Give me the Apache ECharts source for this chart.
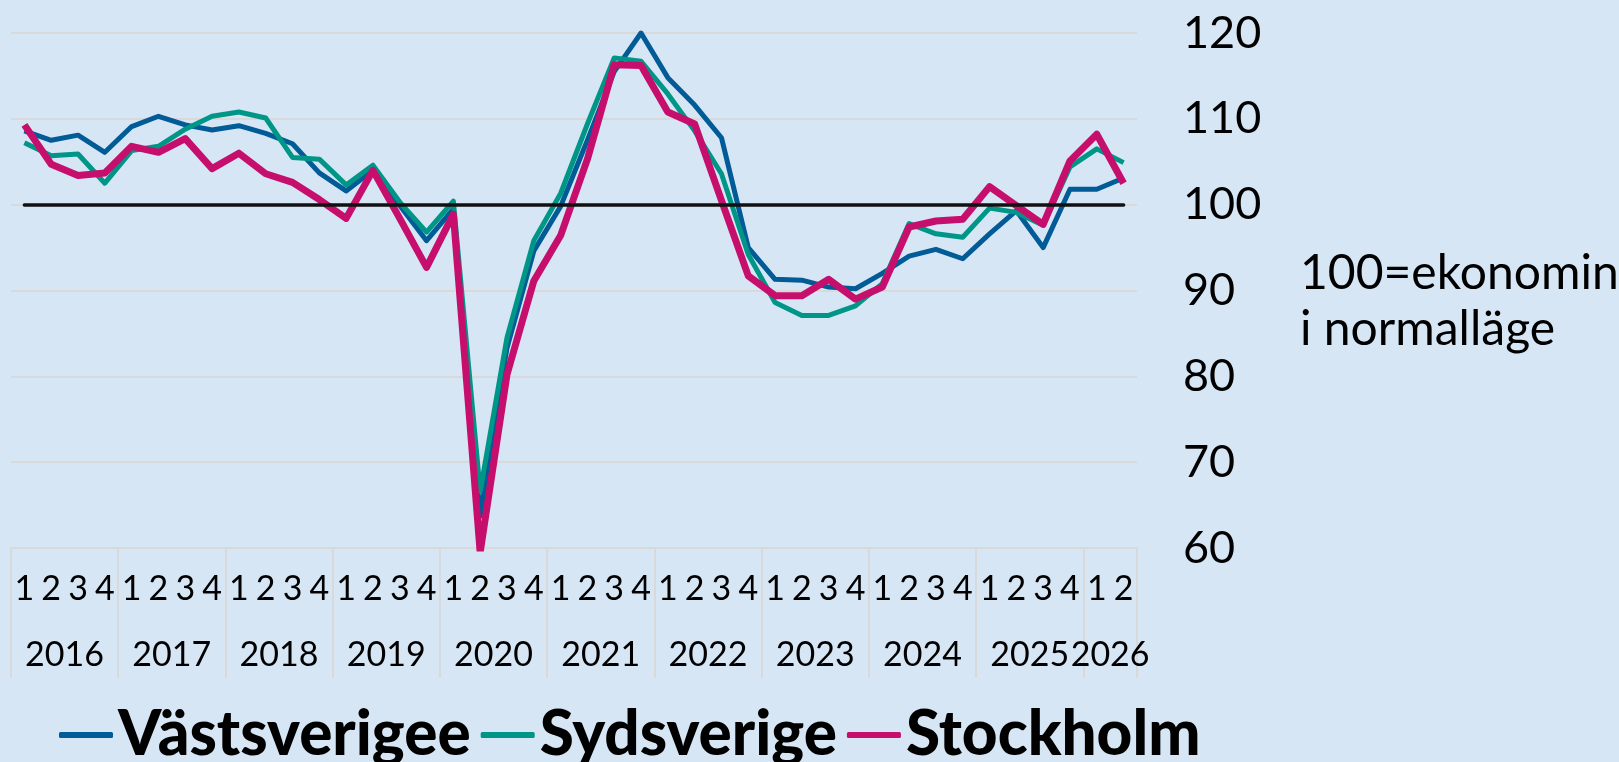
<!DOCTYPE html>
<html>
<head>
<meta charset="utf-8">
<title>Konjunkturbarometern regioner</title>
<script src="https://cdn.jsdelivr.net/npm/echarts@6/dist/echarts.min.js"></script>
<style>
  html, body { margin: 0; padding: 0; background: #d7e6f5; }
  #chart { width: 1619px; height: 762px; }
</style>
</head>
<body>
<div id="chart"></div>
<script>
// år och kvartal på x-axeln
const years = ['2016', '2017', '2018', '2019', '2020', '2021', '2022', '2023', '2024', '2025', '2026']
const quarters = ['1', '2', '3', '4']
const lastYearQuarters = 2 // 2026 har bara två kvartal

// indexvärden, 100 = ekonomin i normalläge
const vastsverige = [
  108.6, 107.5, 108.1, 106.1, 109.1, 110.3, 109.3, 108.7, 109.2, 108.3, 107.1, 103.7,
  101.6, 104.0, 99.9, 95.8, 99.5, 63.7, 83.3, 94.6, 99.8, 107.5, 115.5, 120.0,
  114.8, 111.6, 107.8, 95.0, 91.3, 91.2, 90.4, 90.2, 92.0, 94.0, 94.8, 93.7,
  96.6, 99.3, 95.0, 101.8, 101.8, 103.1
]
const sydsverige = [
  107.2, 105.7, 105.9, 102.5, 106.3, 106.8, 108.8, 110.3, 110.8, 110.1, 105.5, 105.3,
  102.3, 104.6, 100.3, 96.8, 100.4, 66.6, 84.5, 95.8, 101.3, 109.4, 117.1, 116.7,
  112.9, 108.6, 103.6, 94.2, 88.6, 87.1, 87.1, 88.2, 90.8, 97.8, 96.6, 96.2,
  99.6, 99.1, 97.6, 104.4, 106.5, 104.9
]
const stockholm = [
  109.3, 104.7, 103.4, 103.7, 106.8, 106.1, 107.7, 104.2, 106.0, 103.6, 102.6, 100.6,
  98.4, 104.0, 98.4, 92.7, 98.9, 59.5, 80.2, 91.1, 96.4, 105.3, 116.3, 116.2,
  110.8, 109.4, 100.5, 91.7, 89.4, 89.4, 91.3, 89.0, 90.4, 97.4, 98.1, 98.3,
  102.1, 99.9, 97.7, 105.1, 108.2, 102.5
]
const normalLevel = 100

// kategorier "2016 1", "2016 2" ...
const categories = []
years.forEach((y, yi) => {
  const n = yi === years.length - 1 ? lastYearQuarters : quarters.length
  for (let q = 0; q < n; q++) categories.push(y + ' ' + quarters[q])
})
const lastIdx = categories.length - 1

const font = 'Lato, "Noto Sans", sans-serif'
const gridColor = '#d9d9d9'

const chart = echarts.init(document.getElementById('chart'))

const option = {
  backgroundColor: '#d7e6f5',
  animation: false,
  title: {
    text: '100=ekonomin\ni normalläge',
    left: 1295,
    top: 241,
    textStyle: {
      fontFamily: font,
      fontSize: 48,
      fontWeight: 'normal',
      lineHeight: 56,
      color: '#000'
    }
  },
  legend: {
    left: 54,
    top: 699,
    icon: 'roundRect',
    itemWidth: 54,
    itemHeight: 6,
    itemGap: 10,
    textStyle: {
      fontFamily: font,
      fontSize: 62,
      fontWeight: 900,
      color: '#000'
    },
    data: ['Västsverigee', 'Sydsverige', 'Stockholm']
  },
  grid: {
    left: 11,
    right: 482,
    top: 33,
    bottom: 214
  },
  xAxis: [
    {
      type: 'category',
      data: categories,
      boundaryGap: true,
      axisLine: { lineStyle: { color: gridColor, width: 2 } },
      axisTick: {
        show: true,
        length: 130,
        interval: (i) => i % 4 === 0,
        lineStyle: { color: gridColor, width: 2 }
      },
      axisLabel: {
        interval: 0,
        margin: 24,
        fontFamily: font,
        fontSize: 34,
        color: '#000',
        formatter: (v) => v.split(' ')[1]
      }
    },
    {
      // årtal, centrerade under varje år
      type: 'category',
      data: categories,
      position: 'bottom',
      boundaryGap: true,
      axisLine: { show: false },
      axisTick: { show: false },
      axisLabel: {
        interval: (i) => i % 4 === 2 || i === lastIdx,
        margin: 90,
        color: '#000',
        formatter: (v) => '{y|' + v.split(' ')[0] + '}',
        rich: {
          y: {
            fontFamily: font,
            fontSize: 34,
            color: '#000',
            padding: [0, 27, 0, 0]
          }
        }
      }
    }
  ],
  yAxis: {
    type: 'value',
    position: 'right',
    min: 60,
    max: 120,
    interval: 10,
    axisLine: { show: false },
    axisTick: { show: false },
    splitLine: { lineStyle: { color: gridColor, width: 2 } },
    axisLabel: {
      margin: 46,
      fontFamily: font,
      fontSize: 45,
      color: '#000'
    }
  },
  series: [
    {
      name: 'Västsverigee',
      type: 'line',
      data: vastsverige,
      symbol: 'none',
      color: '#005b96',
      lineStyle: { width: 5, join: 'round' },
      markLine: {
        silent: true,
        symbol: 'none',
        label: { show: false },
        lineStyle: { color: '#111', width: 3.5, type: 'solid', cap: 'round' },
        data: [[{ coord: [0, normalLevel] }, { coord: [lastIdx, normalLevel] }]]
      }
    },
    {
      name: 'Sydsverige',
      type: 'line',
      data: sydsverige,
      symbol: 'none',
      color: '#009687',
      lineStyle: { width: 5, join: 'round' }
    },
    {
      name: 'Stockholm',
      type: 'line',
      data: stockholm,
      symbol: 'none',
      color: '#c60f6c',
      lineStyle: { width: 7, join: 'round' }
    }
  ]
}

chart.setOption(option)
</script>
</body>
</html>
